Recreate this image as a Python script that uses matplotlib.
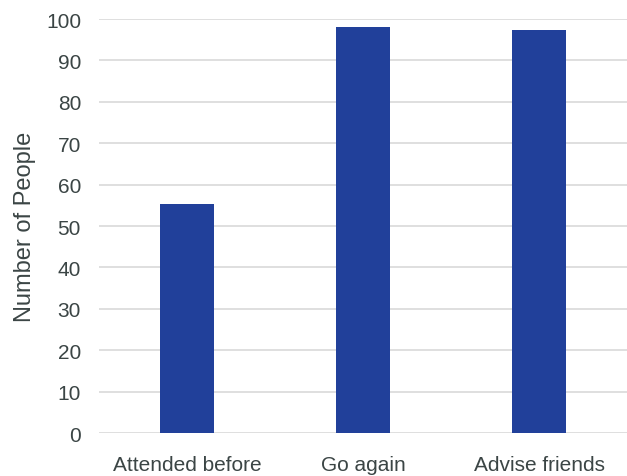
import matplotlib.pyplot as plt
import numpy as np

categories = ["Attended before", "Go again", "Advise friends"]
values = [55.3, 98.0, 97.4]
yticks = [0, 10, 20, 30, 40, 50, 60, 70, 80, 90, 100]

plt.rcParams["font.family"] = ["Liberation Sans", "DejaVu Sans"]
text_color = "#3b4545"

fig = plt.figure(figsize=(6.27, 4.77), dpi=100)
ax = fig.add_axes([0.158, 0.090, 0.842, 0.868])

x = np.arange(len(categories))
ax.bar(x, values, width=0.31, color="#21409a", zorder=3)

ax.set_xlim(-0.5, 2.5)
ax.set_ylim(0, 100)
ax.set_yticks(yticks)
ax.set_xticks(x)
ax.set_xticklabels(categories)
ax.tick_params(axis="both", length=0, labelsize=15, colors=text_color)
ax.tick_params(axis="x", pad=16)
ax.tick_params(axis="y", pad=13)
ax.set_ylabel("Number of People", fontsize=17, color=text_color, labelpad=7)

for s in ax.spines.values():
    s.set_visible(False)
ax.yaxis.grid(True, color="#d9d9d9", linewidth=1.2, zorder=0)

fig.savefig("out.png", dpi=100)
